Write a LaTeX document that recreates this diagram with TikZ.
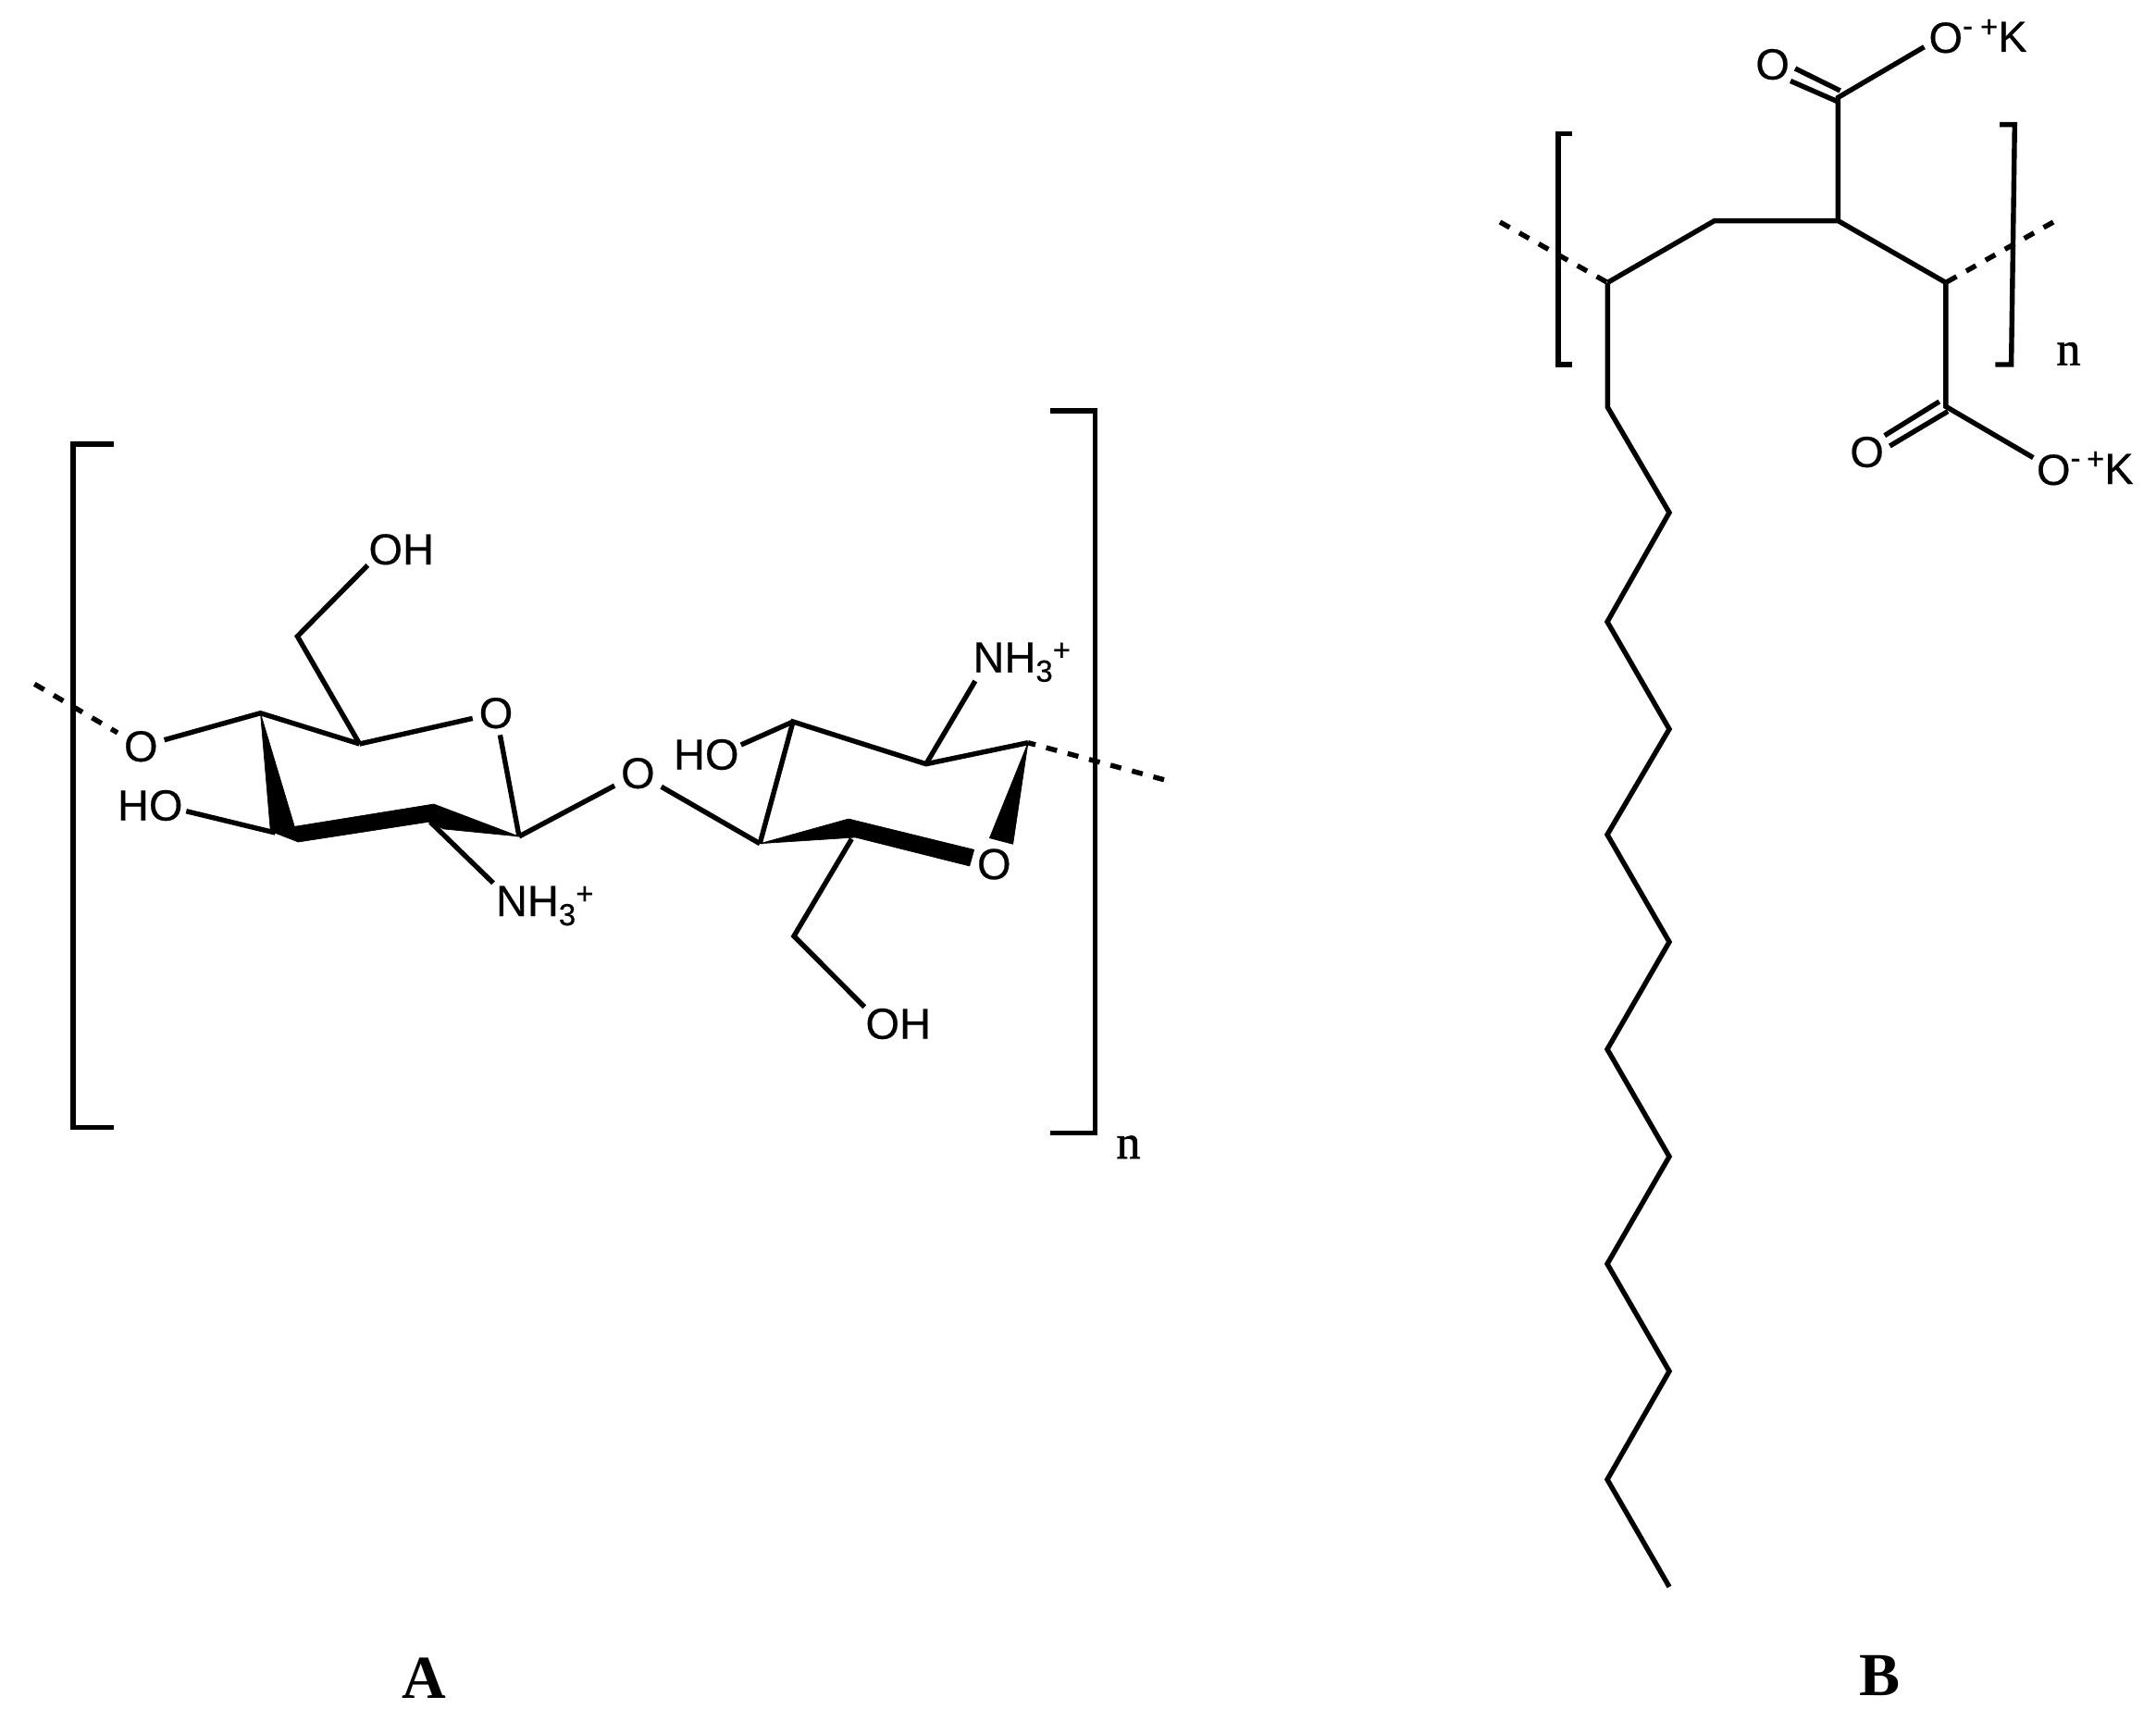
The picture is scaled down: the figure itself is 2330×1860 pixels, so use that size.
\documentclass[tikz,border=0pt]{standalone}
\usepackage{fontspec}
\setmainfont[FakeBold=0.4]{Liberation Sans}
\newfontfamily\serifbody[FakeBold=1.2]{Liberation Serif}
\newfontfamily\serifhead{Liberation Serif}
\newcommand{\atomfont}{\fontsize{47}{47}\selectfont}
\newcommand{\smallatom}{\fontsize{33}{33}\selectfont}
\newcommand{\subthree}{\raisebox{-10pt}{\smallatom 3}}
\newcommand{\supplus}{\raisebox{13pt}{\smallatom +}}
\newcommand{\suppluskt}{\raisebox{16pt}{\smallatom +}}
\newcommand{\supminus}{\raisebox{18pt}{\smallatom -}}
\tikzset{
  bond/.style={line width=5.4pt,line cap=butt,line join=miter,draw=black},
  brk/.style={line width=5.4pt,line join=miter,draw=black},
  dashbond/.style={line width=5.4pt,draw=black,dash pattern=on 12pt off 12pt},
  wedge/.style={fill=black,draw=black,line width=0.6pt,line join=round},
  atomO/.style={font=\atomfont,inner sep=7pt,outer sep=0pt},
  lab/.style={font=\atomfont,inner sep=0pt,outer sep=0pt},
  repeatn/.style={font=\serifbody\fontsize{52}{52}\selectfont,inner sep=0pt,anchor=base},
  panel/.style={font=\serifhead\bfseries\fontsize{66}{66}\selectfont,inner sep=0pt,anchor=base},
}
\begin{document}
\begin{tikzpicture}[x=1pt,y=-1pt]
\useasboundingbox (0,0) rectangle (2330,1860);
% ---------- A: vertices
\coordinate (a1) at (281.5,770.7);
\coordinate (a2) at (388.6,804);
\coordinate (a3) at (321.4,687.7);
\coordinate (a4) at (561,904);
\coordinate (a5) at (465,888.3);
\coordinate (a6) at (297.5,900);
\coordinate (b1) at (821.2,911.7);
\coordinate (b2) at (857,780);
\coordinate (b3) at (1000.8,825.7);
\coordinate (b4) at (1111,802.7);
\coordinate (b5) at (920.4,906.7);
\coordinate (b6) at (858,1011.7);
% ---------- A: free ends
\coordinate (dl) at (37.3,739.3);
\coordinate (dr) at (1258,842.7);
\coordinate (eOH1) at (397.3,611);
\coordinate (eHO1) at (201.3,876.7);
\coordinate (eNH1) at (533,954.3);
\coordinate (eHO2) at (800.8,805);
\coordinate (eNH2) at (1053.9,736);
\coordinate (eOH2) at (934.3,1088.3);
% ---------- A: labels
\node[atomO] (O1) at (152.3,806.7) {O};
\node[atomO] (O2) at (536,770.7) {O};
\node[atomO] (O3) at (689.4,835.7) {O};
\node[atomO] (O4) at (1074.3,934) {O};
\node[lab,anchor=base west] (OH1) at (398.5,610) {OH};
\node[lab,anchor=base west] (HO1) at (127,886.7) {HO};
\node[lab,anchor=base west] (NH1) at (536,990) {NH\subthree\supplus};
\node[lab,anchor=base west] (HO2) at (728,831.7) {HO};
\node[lab,anchor=base west] (NH2) at (1051.5,726.7) {NH\subthree\supplus};
\node[lab,anchor=base west] (OH2) at (935.5,1122.7) {OH};
% ---------- A: wedges
\fill[wedge] (281.5,770.7) -- (292.3,898.3) -- (322.3,910) -- (463.2,888.3) -- (479.7,896) -- (561,904) -- (468.8,869) -- (318.3,893.3) -- cycle;
\fill[wedge] (821.2,911.7) -- (917,885) -- (1052.7,918.3) -- (1047.8,936) -- (924.5,905) -- cycle;
\fill[wedge] (1111,802.7) -- (1069.4,905.7) -- (1094.7,912.3) -- cycle;
% ---------- A: bonds
\draw[dashbond] (dl) -- (O1);
\draw[bond] (O1) -- (a1) -- (a2);
\draw[bond] (a2) -- (O2);
\draw[bond] (O2) -- (a4);
\draw[bond] (a2) -- (a3) -- (eOH1);
\draw[bond] (eHO1) -- (a6);
\draw[bond] (a5) -- (eNH1);
\draw[bond] (a4) -- (O3);
\draw[bond] (O3) -- (b1);
\draw[bond] (b1) -- (b2) -- (b3) -- (b4);
\draw[bond] (eHO2) -- (b2);
\draw[bond] (b3) -- (eNH2);
\draw[bond] (b5) -- (b6) -- (eOH2);
\draw[dashbond] (dr) -- (b4);
% ---------- A: brackets
\draw[brk] (123,480) -- (79,480) -- (79,1218.5) -- (123,1218.5);
\draw[brk] (1135,444) -- (1183.5,444) -- (1183.5,1224.5) -- (1135,1224.5);
\node[repeatn] (nA) at (1219.5,1252) {n};
\node[panel] (labA) at (458,1835.5) {A};
% ---------- B: backbone
\coordinate (c1) at (1737.3,305.4);
\coordinate (c2) at (1852.8,238.6);
\coordinate (c3) at (1986.4,238.6);
\coordinate (c4) at (2102.8,305.4);
\coordinate (c5) at (1986.4,105.4);
\coordinate (c6) at (2102.8,439.3);
\coordinate (dl2) at (1621,240);
\coordinate (dr2) at (2219,240);
% chain
\coordinate (s1) at (1737.3,440);
\coordinate (s2) at (1804,554);
\coordinate (s3) at (1737,672);
\coordinate (s4) at (1804,788);
\coordinate (s5) at (1737,902);
\coordinate (s6) at (1804,1018);
\coordinate (s7) at (1737,1134);
\coordinate (s8) at (1804,1250);
\coordinate (s9) at (1737,1366);
\coordinate (s10) at (1804,1482);
\coordinate (s11) at (1737,1599);
\coordinate (s12) at (1804,1715);
% labels
\node[lab,anchor=base west] (Om1) at (2084.5,57) {O\supminus};
\node[lab,anchor=base west] (K1) at (2140,56) {\suppluskt K};
\node[atomO] (O5) at (1915.6,69.6) {O};
\node[lab,anchor=base west] (Om2) at (2201,524) {O\supminus};
\node[lab,anchor=base west] (K2) at (2255,523) {\suppluskt K};
\node[atomO] (O6) at (2017.6,488.6) {O};
\coordinate (eO1) at (2079.5,50.7);
\coordinate (eO2) at (2197.3,494.6);
\coordinate (p1a) at (1940,74);
\coordinate (p1b) at (1988.7,98);
\coordinate (p2a) at (1935,87.5);
\coordinate (p2b) at (1986.4,110);
\coordinate (p3a) at (2095.8,434);
\coordinate (p3b) at (2036.7,470.7);
\coordinate (p4a) at (2105,444.6);
\coordinate (p4b) at (2042.3,482);
% bonds
\draw[dashbond] (dl2) -- (c1);
\draw[dashbond] (dr2) -- (c4);
\draw[bond] (c1) -- (c2) -- (c3) -- (c4) -- (c6) -- (eO2);
\draw[bond] (c3) -- (c5) -- (eO1);
\draw[bond] (p1a) -- (p1b);
\draw[bond] (p2a) -- (p2b);
\draw[bond] (p3a) -- (p3b);
\draw[bond] (p4a) -- (p4b);
\draw[bond] (c1) -- (s1) -- (s2) -- (s3) -- (s4) -- (s5) -- (s6) -- (s7) -- (s8) -- (s9) -- (s10) -- (s11) -- (s12);
% brackets
\draw[brk] (1698.7,144.6) -- (1683.8,144.6) -- (1683.8,394) -- (1698.7,394);
\draw[brk] (2161,134.6) -- (2177.3,134.6) -- (2173.6,394) -- (2156.3,394);
\node[repeatn] (nB) at (2235.5,394.6) {n};
\node[panel] (labB) at (2031,1832) {B};
\end{tikzpicture}
\end{document}
